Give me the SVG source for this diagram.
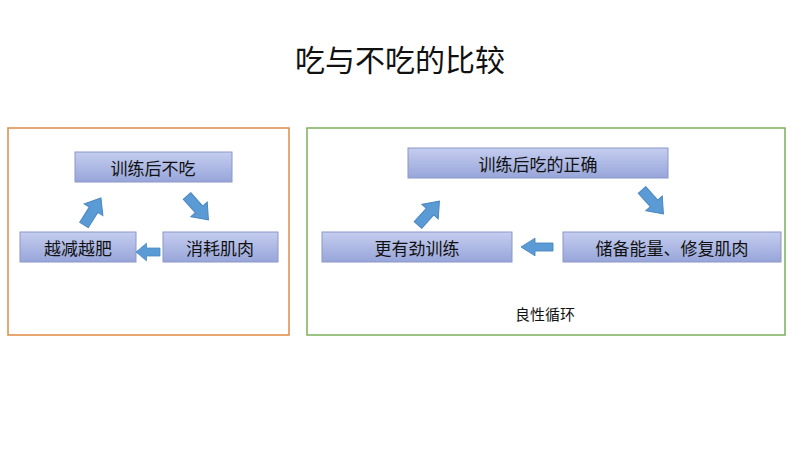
<svg xmlns="http://www.w3.org/2000/svg" width="800" height="450" viewBox="0 0 800 450">
<defs>
<linearGradient id="g" x1="0" y1="0" x2="0" y2="1"><stop offset="0" stop-color="#c5cdef"/><stop offset="1" stop-color="#97a5d9"/></linearGradient>
<polygon id="arr" points="0,-5 18,-5 18,-11 32,0 18,11 18,5 0,5"/>
</defs>
<style>
.n{fill:url(#g);stroke:#8a97c8;stroke-width:1}
.t{font-family:"Noto Sans CJK SC",sans-serif;font-size:17px;fill:#111;text-anchor:middle;dominant-baseline:central}
.a{fill:#5b9bd5;stroke:#4a86be;stroke-width:1}
</style>
<rect width="800" height="450" fill="#fff"/>
<text x="400" y="58" class="t" style="font-size:30px">吃与不吃的比较</text>
<rect x="8" y="128" width="281" height="207" fill="none" stroke="#e08a45" stroke-width="1.5"/>
<rect x="307" y="128" width="478" height="207" fill="none" stroke="#7cae5c" stroke-width="1.5"/>
<g id="n1"><rect class="n" x="75" y="152" width="157" height="30"/><text class="t" x="153" y="167">训练后不吃</text></g>
<g id="n2"><rect class="n" x="163" y="232" width="115" height="30"/><text class="t" x="220" y="247">消耗肌肉</text></g>
<g id="n3"><rect class="n" x="20" y="232" width="116" height="30"/><text class="t" x="78" y="247">越减越肥</text></g>
<g id="n4"><rect class="n" x="408" y="148" width="260" height="30"/><text class="t" x="538" y="163">训练后吃的正确</text></g>
<g id="n5"><rect class="n" x="563" y="232" width="218" height="30"/><text class="t" x="672" y="247">储备能量、修复肌肉</text></g>
<g id="n6"><rect class="n" x="322" y="232" width="190" height="30"/><text class="t" x="417" y="247">更有劲训练</text></g>
<text class="t" x="545" y="313" style="font-size:15px">良性循环</text>
<g id="connectors">
<use href="#arr" class="a" transform="translate(187,196) rotate(48)"/>
<use href="#arr" class="a" transform="translate(160,252) rotate(180) scale(0.75,0.8)"/>
<use href="#arr" class="a" transform="translate(84,225) rotate(-58)"/>
<use href="#arr" class="a" transform="translate(642,190) rotate(48)"/>
<use href="#arr" class="a" transform="translate(553,247) rotate(180) scale(1,0.8)"/>
<use href="#arr" class="a" transform="translate(418,225) rotate(-48)"/>
</g>
</svg>
